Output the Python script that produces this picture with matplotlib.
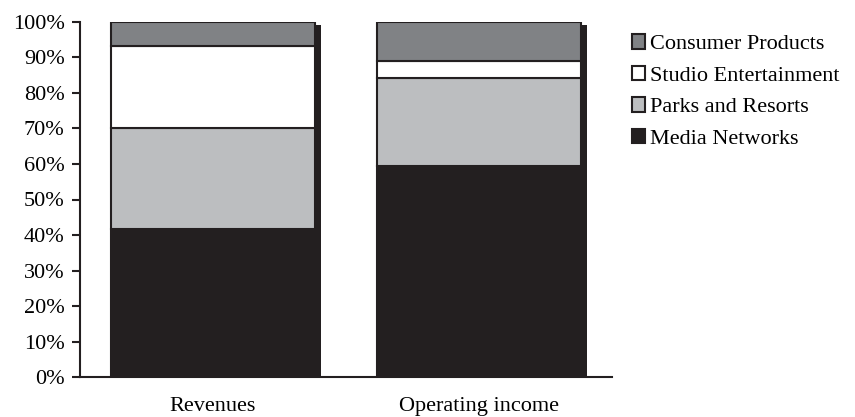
import matplotlib.pyplot as plt
import matplotlib.transforms as mtransforms
import numpy as np

plt.rcParams['font.family'] = ['Liberation Serif', 'DejaVu Serif']

# Share of Disney's total, by segment (percent)
categories = ['Revenues', 'Operating income']
segments = ['Media Networks', 'Parks and Resorts', 'Studio Entertainment', 'Consumer Products']
media = [41.7, 59.5]
parks = [28.3, 24.8]
studio = [23.3, 4.7]
consumer = [6.7, 11.0]
colors = ['#231f20', '#bcbec0', '#ffffff', '#808285']

fig = plt.figure(figsize=(8.55, 4.17), dpi=100)
ax = fig.add_axes([80 / 855, (417 - 377.3) / 417, 532 / 855, 355.6 / 417])

x = np.arange(len(categories))
width = 0.77
edge = '#231f20'

# drop shadow behind each stacked bar
totals = np.sum([media, parks, studio, consumer], axis=0)
shadow = ax.transData + mtransforms.ScaledTranslation(6 / 100, -3 / 100, fig.dpi_scale_trans)
ax.bar(x, totals, width, color=edge, transform=shadow, zorder=1)

bottom = np.zeros(len(categories))
for name, vals, c in zip(segments, [media, parks, studio, consumer], colors):
    ax.bar(x, vals, width, bottom=bottom, color=c, edgecolor=edge, linewidth=1.5,
           label=name, zorder=2)
    bottom += vals

ax.set_xlim(-0.5, 1.5)
ax.set_ylim(0, 100)
ax.set_yticks(np.arange(0, 101, 10))
ax.set_yticklabels([f'{v}%' for v in range(0, 101, 10)])
ax.set_xticks(x)
ax.set_xticklabels(categories)

for s in ['top', 'right']:
    ax.spines[s].set_visible(False)
for s in ['left', 'bottom']:
    ax.spines[s].set_linewidth(1.5)
    ax.spines[s].set_color(edge)
ax.tick_params(axis='y', length=6, width=1.5, color=edge, labelsize=16, pad=5)
ax.tick_params(axis='x', length=0, labelsize=16, pad=14)

handles, labels = ax.get_legend_handles_labels()
ax.legend(handles[::-1], labels[::-1], loc='upper left', bbox_to_anchor=(1.02, 0.99),
          frameon=False, fontsize=16, handlelength=0.62, handleheight=0.62,
          handletextpad=0.2, labelspacing=0.52, borderaxespad=0)

fig.savefig('out.png', dpi=100)
